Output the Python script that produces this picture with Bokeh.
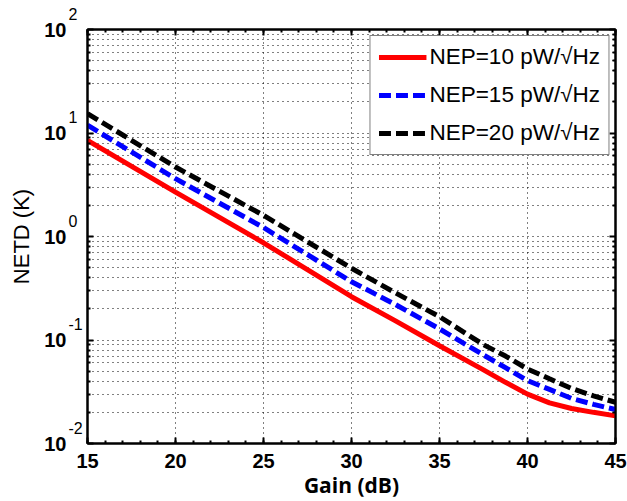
from bokeh.plotting import figure
from bokeh.models import (Range1d, LinearAxis, LogAxis, Label, Legend, LegendItem,
                          FixedTicker, CustomJSTickFormatter)
from bokeh.embed import file_html
from bokeh.resources import INLINE

# ---- data ----
gain = [15, 20, 25, 30, 32.5, 35, 37.5, 38.75, 40, 41.25, 42.5, 43.75, 45]
netd_nep10 = [8.5, 2.68, 0.87, 0.262, 0.153, 0.088, 0.0515, 0.039, 0.0300, 0.0247, 0.0218, 0.0200, 0.0185]
netd_nep15 = [11.9, 3.62, 1.22, 0.366, 0.22, 0.128, 0.0716, 0.054, 0.0405, 0.0333, 0.0273, 0.0239, 0.0213]
netd_nep20 = [15.4, 4.69, 1.60, 0.493, 0.285, 0.168, 0.090, 0.070, 0.0525, 0.0422, 0.034, 0.0289, 0.0250]

series_labels = ["NEP=10 pW/\u221aHz", "NEP=15 pW/\u221aHz", "NEP=20 pW/\u221aHz"]
x_ticks = [15, 20, 25, 30, 35, 40, 45]
y_exponents = [-2, -1, 0, 1, 2]

TICK_FONT = "Liberation Sans"

y_major = [10.0 ** e for e in y_exponents]
y_minor = [m * 10.0 ** e for e in y_exponents[:-1] for m in range(2, 10)]

p = figure(width=627, height=501, y_axis_type="log",
           x_range=Range1d(15, 45), y_range=Range1d(0.01, 100),
           output_backend="svg", toolbar_location=None,
           min_border_left=87, min_border_right=12, min_border_top=29, min_border_bottom=58,
           background_fill_color="white", border_fill_color="white")

p.outline_line_color = "black"
p.outline_line_width = 2

xticker = FixedTicker(ticks=x_ticks, minor_ticks=list(range(15, 46)))
yticker = FixedTicker(ticks=y_major, minor_ticks=y_minor)

def style_axis(ax):
    ax.axis_line_color = "black"
    ax.axis_line_width = 2
    ax.major_tick_line_color = "black"
    ax.major_tick_line_width = 2
    ax.minor_tick_line_color = "black"
    ax.minor_tick_line_width = 2
    ax.major_tick_in = 6
    ax.major_tick_out = 0
    ax.minor_tick_in = 3
    ax.minor_tick_out = 0

# bottom axis
xa = p.xaxis[0]
xa.ticker = xticker
style_axis(xa)
xa.major_label_text_font = TICK_FONT
xa.major_label_text_font_style = "bold"
xa.major_label_text_font_size = "20px"
xa.major_label_text_color = "black"
xa.major_label_standoff = 10
xa.axis_label = "Gain (dB)"
xa.axis_label_text_font = "Open Sans"
xa.axis_label_text_font_style = "bold"
xa.axis_label_text_font_size = "21px"
xa.axis_label_text_color = "black"
xa.axis_label_standoff = 0

# left axis nearest the frame: line and ticks only
ya = p.yaxis[0]
ya.ticker = yticker
style_axis(ya)
ya.formatter = CustomJSTickFormatter(code="return '';")
ya.major_label_standoff = 0

# exponents of the y tick labels (side panel, so they are not clipped by the frame)
for e in y_exponents:
    p.add_layout(Label(x=15, y=10.0 ** e, x_units="data", y_units="data",
                       text=str(e), x_offset=-19, y_offset=16,
                       text_align="left", text_baseline="middle",
                       text_font=TICK_FONT, text_font_size="16px", text_color="black"),
                 "left")

# outer left axis: the mantissa "10" and the axis title (negative standoff pulls it in)
yb = LogAxis(ticker=yticker, formatter=CustomJSTickFormatter(code="return '10';"))
yb.axis_line_color = None
yb.major_tick_line_color = None
yb.minor_tick_line_color = None
yb.major_tick_in = 0
yb.major_tick_out = 0
yb.minor_tick_in = 0
yb.minor_tick_out = 0
yb.major_label_text_font = TICK_FONT
yb.major_label_text_font_style = "bold"
yb.major_label_text_font_size = "20px"
yb.major_label_text_color = "black"
yb.major_label_standoff = -34
yb.axis_label = "NETD (K)"
yb.axis_label_text_font = TICK_FONT
yb.axis_label_text_font_style = "normal"
yb.axis_label_text_font_size = "22px"
yb.axis_label_text_color = "black"
yb.axis_label_standoff = 7
p.add_layout(yb, "left")

# top & right axes (ticks only)
top = LinearAxis(ticker=xticker, formatter=CustomJSTickFormatter(code="return '';"))
style_axis(top)
top.major_label_standoff = 0
p.add_layout(top, "above")
right = LogAxis(ticker=yticker, formatter=CustomJSTickFormatter(code="return '';"))
style_axis(right)
right.major_label_standoff = 0
p.add_layout(right, "right")

# grids
p.xgrid.ticker = FixedTicker(ticks=x_ticks)
p.xgrid.grid_line_color = "black"
p.xgrid.grid_line_dash = "1 4"
p.xgrid.grid_line_width = 1
p.ygrid.ticker = yticker
p.ygrid.grid_line_color = "black"
p.ygrid.grid_line_dash = "1 4"
p.ygrid.grid_line_width = 1
p.ygrid.minor_grid_line_color = "black"
p.ygrid.minor_grid_line_dash = "1 4"
p.ygrid.minor_grid_line_width = 1

# curves
r1 = p.line(gain, netd_nep10, line_color="#ff0000", line_width=5)
r2 = p.line(gain, netd_nep15, line_color="#0000ff", line_width=5, line_dash="12 5")
r3 = p.line(gain, netd_nep20, line_color="black", line_width=5, line_dash="12 5")

legend = Legend(items=[LegendItem(label=series_labels[0], renderers=[r1]),
                       LegendItem(label=series_labels[1], renderers=[r2]),
                       LegendItem(label=series_labels[2], renderers=[r3])],
                location="top_right")
legend.margin = 6
legend.padding = 8
legend.spacing = 12
legend.glyph_width = 48
legend.glyph_height = 26
legend.label_height = 26
legend.label_standoff = 3
legend.label_text_font = TICK_FONT
legend.label_text_font_size = "22.5px"
legend.label_text_color = "black"
legend.border_line_color = "black"
legend.border_line_width = 1.5
legend.background_fill_color = "white"
legend.background_fill_alpha = 1
p.add_layout(legend)

open("out.html", "w").write(file_html(p, INLINE))
